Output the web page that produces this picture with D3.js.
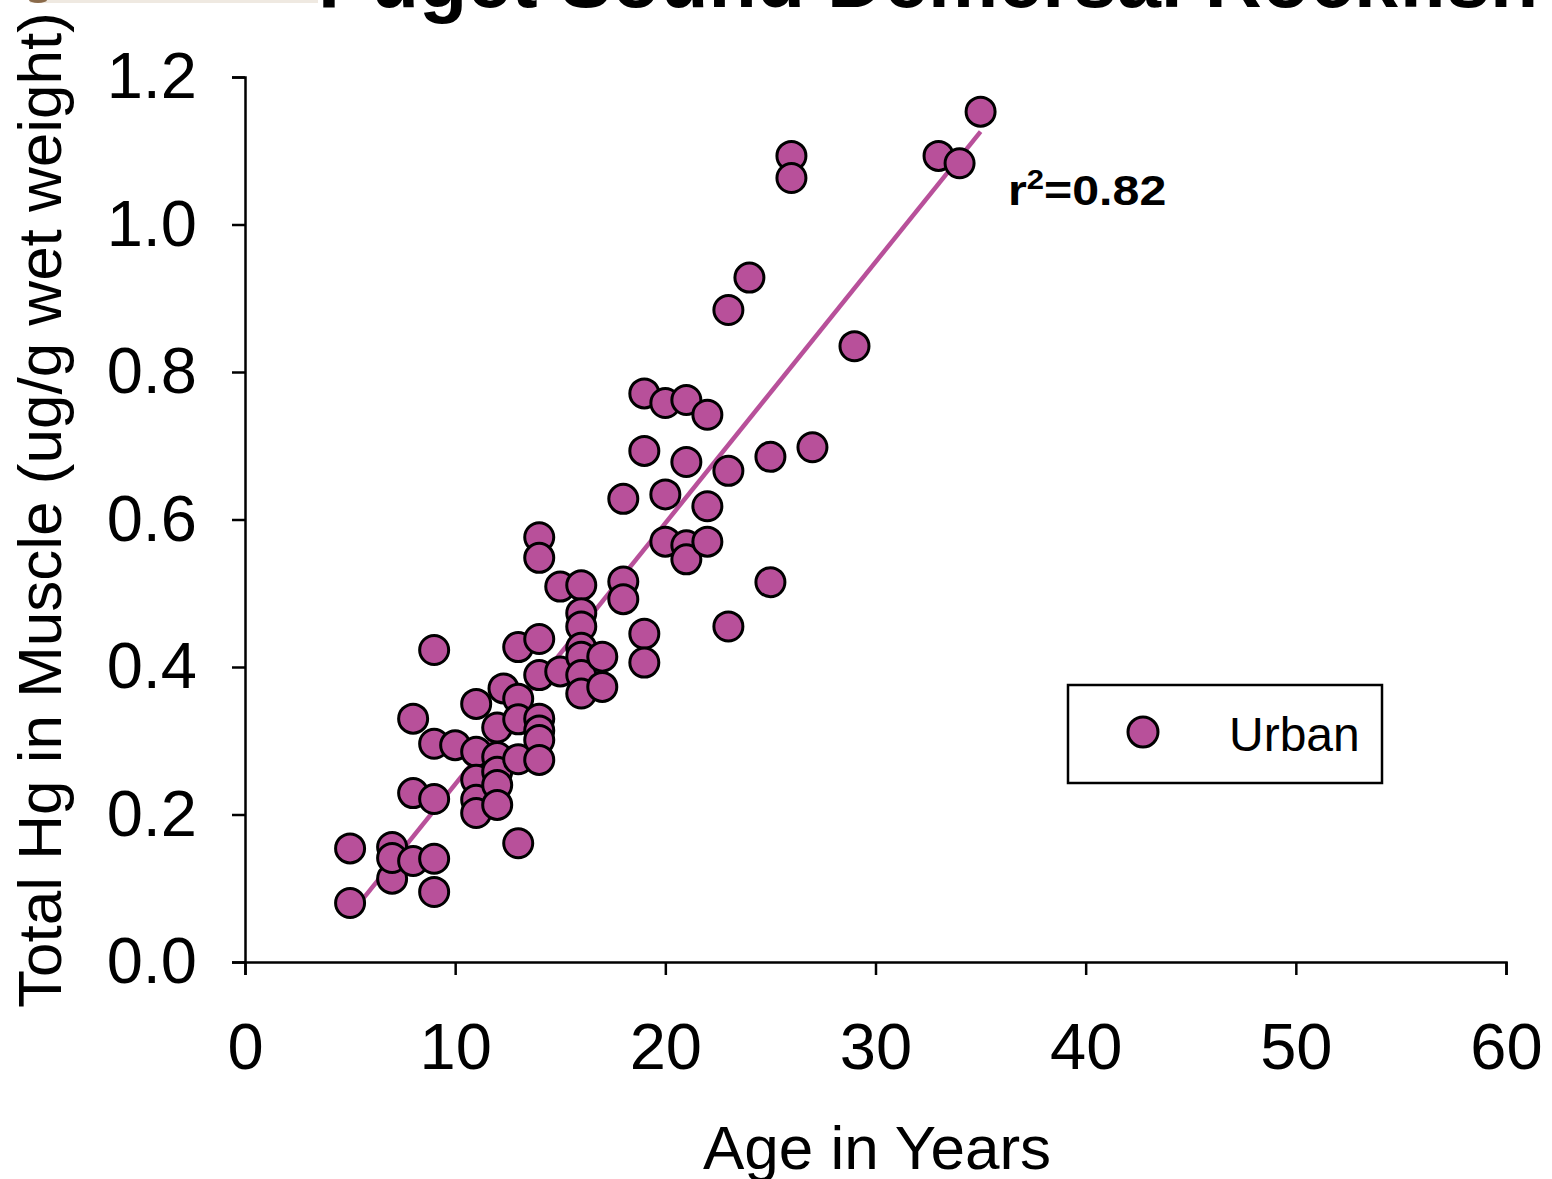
<!DOCTYPE html>
<html>
<head>
<meta charset="utf-8">
<script src="https://cdn.jsdelivr.net/npm/d3@7/dist/d3.min.js"></script>
<style>
  html, body { margin: 0; padding: 0; background: #fff; }
  svg { display: block; font-family: "Liberation Sans", Arial, sans-serif; }
</style>
</head>
<body>
<div id="chart"></div>
<script>
// Chart data
const ages = [
  5, 5,
  7, 7, 7,
  8, 8, 8,
  9, 9, 9, 9, 9,
  10,
  11, 11, 11, 11, 11,
  12, 12, 12, 12, 12, 12.3,
  13, 13, 13, 13, 13,
  14, 14, 14, 14, 14, 14, 14, 14,
  15, 15,
  16, 16, 16, 16, 16, 16, 16,
  17, 17,
  18, 18, 18,
  19, 19, 19, 19,
  20, 20, 20,
  21, 21, 21, 21,
  22, 22, 22,
  23, 23, 23,
  24,
  25, 25,
  26, 26,
  27, 29, 33, 34, 35
];
const hgMuscle = [
  0.154, 0.080,
  0.156, 0.113, 0.141,
  0.330, 0.229, 0.137,
  0.423, 0.296, 0.221, 0.140, 0.095,
  0.294,
  0.350, 0.285, 0.247, 0.220, 0.202,
  0.318, 0.278, 0.258, 0.240, 0.213, 0.371,
  0.427, 0.357, 0.329, 0.275, 0.161,
  0.576, 0.548, 0.438, 0.389, 0.330, 0.314, 0.301, 0.274,
  0.509, 0.394,
  0.511, 0.473, 0.455, 0.426, 0.414, 0.389, 0.364,
  0.414, 0.373,
  0.628, 0.516, 0.492,
  0.771, 0.693, 0.445, 0.406,
  0.758, 0.634, 0.570,
  0.762, 0.678, 0.565, 0.546,
  0.742, 0.618, 0.570,
  0.884, 0.666, 0.455,
  0.928,
  0.685, 0.515,
  1.093, 1.063,
  0.698, 0.835, 1.093, 1.083, 1.153
];

// regression line end points (age, Hg)
const fitAges = [5, 35];
const fitHg = [0.064, 1.126];

const xTicks = [0, 10, 20, 30, 40, 50, 60];
const yTicks = [0, 0.2, 0.4, 0.6, 0.8, 1.0, 1.2];

const titleText = "Puget Sound Demersal Rockfish";
const xLabel = "Age in Years";
const yLabel = "Total Hg in Muscle (ug/g wet weight)";
const seriesName = "Urban";
const r2Text = "0.82";

const W = 1552, H = 1179;
const fill = "#b8509a";

const svg = d3.select("#chart").append("svg")
  .attr("width", W)
  .attr("height", H);

// plot area
const x = d3.scaleLinear().domain([0, 60]).range([245, 1506]);
const y = d3.scaleLinear().domain([0, 1.2]).range([962, 77]);

// faint strip of the cropped photo at top left
svg.append("rect")
  .attr("x", 30).attr("y", 0).attr("width", 288).attr("height", 3)
  .attr("fill", "#efe9e1");
svg.append("ellipse")
  .attr("cx", 38).attr("cy", 0).attr("rx", 9).attr("ry", 3)
  .attr("fill", "#8a6a4a");

// title (cut off at the top in the original)
svg.append("text")
  .attr("x", 318)
  .attr("y", 7)
  .attr("font-size", 79)
  .attr("font-weight", "bold")
  .attr("fill", "#000")
  .text(titleText);

// axes
const xAxis = d3.axisBottom(x)
  .tickValues(xTicks)
  .tickSize(13)
  .tickPadding(48)
  .tickFormat(d3.format("d"));

const yAxis = d3.axisLeft(y)
  .tickValues(yTicks)
  .tickSize(13)
  .tickPadding(35)
  .tickFormat(d3.format(".1f"));

const gx = svg.append("g")
  .attr("transform", `translate(0,${y(0)})`)
  .call(xAxis);

const gy = svg.append("g")
  .attr("transform", `translate(${x(0)},0)`)
  .call(yAxis);

[gx, gy].forEach(g => {
  g.selectAll("path, line")
    .attr("stroke", "#000")
    .attr("stroke-width", 2.5);
  g.selectAll("text")
    .attr("font-size", 65)
    .attr("font-family", "'Liberation Sans', Arial, sans-serif")
    .attr("fill", "#000");
});

// axis titles
svg.append("text")
  .attr("x", 877)
  .attr("y", 1169)
  .attr("text-anchor", "middle")
  .attr("font-size", 62)
  .attr("fill", "#000")
  .text(xLabel);

svg.append("text")
  .attr("transform", "translate(61,510) rotate(-90)")
  .attr("text-anchor", "middle")
  .attr("font-size", 62)
  .attr("fill", "#000")
  .text(yLabel);

// regression line
svg.append("line")
  .attr("x1", x(fitAges[0]))
  .attr("y1", y(fitHg[0]))
  .attr("x2", x(fitAges[1]))
  .attr("y2", y(fitHg[1]))
  .attr("stroke", fill)
  .attr("stroke-width", 4.5);

// points
svg.append("g")
  .selectAll("circle")
  .data(ages.map((a, i) => ({ age: a, hg: hgMuscle[i] })))
  .join("circle")
  .attr("cx", d => x(d.age))
  .attr("cy", d => y(d.hg))
  .attr("r", 14.5)
  .attr("fill", fill)
  .attr("stroke", "#000")
  .attr("stroke-width", 3);

// r squared label
const r2 = svg.append("text")
  .attr("transform", "translate(1008,205) scale(1.15,1)")
  .attr("font-size", 42)
  .attr("font-weight", "bold")
  .attr("fill", "#000");
r2.append("tspan").text("r");
r2.append("tspan")
  .attr("font-size", 27)
  .attr("dy", -16)
  .text("2");
r2.append("tspan")
  .attr("dy", 16)
  .text("=" + r2Text);

// legend
const legend = svg.append("g");
legend.append("rect")
  .attr("x", 1068).attr("y", 685)
  .attr("width", 314).attr("height", 98)
  .attr("fill", "#fff")
  .attr("stroke", "#000")
  .attr("stroke-width", 2.5);
legend.append("circle")
  .attr("cx", 1143).attr("cy", 732)
  .attr("r", 15)
  .attr("fill", fill)
  .attr("stroke", "#000")
  .attr("stroke-width", 3);
legend.append("text")
  .attr("x", 1229).attr("y", 751)
  .attr("font-size", 48)
  .attr("fill", "#000")
  .text(seriesName);
</script>
</body>
</html>
